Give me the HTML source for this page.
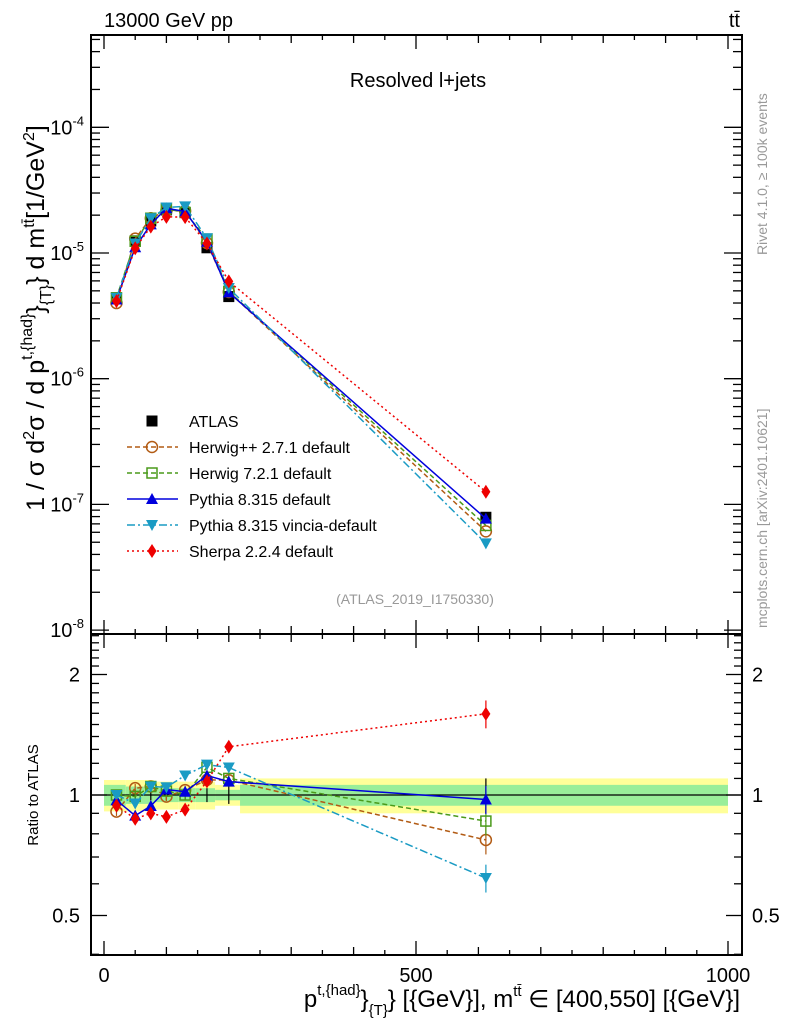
<!DOCTYPE html>
<html><head><meta charset="utf-8">
<style>
html,body{margin:0;padding:0;background:#fff;}
svg{display:block;font-family:"Liberation Sans",sans-serif;}
</style></head>
<body>
<svg id="chart" width="786" height="1024" viewBox="0 0 786 1024" xmlns="http://www.w3.org/2000/svg">
  <g id="bands"></g>
  <g id="axes"></g>
  <g id="series"></g>
  <text x="104" y="27" font-size="20">13000 GeV pp</text>
  <text x="740" y="27" font-size="20" text-anchor="end">tt̄</text>
  <text x="418" y="87" font-size="20" text-anchor="middle">Resolved l+jets</text>
  <text x="415" y="604" font-size="14" fill="#999" text-anchor="middle">(ATLAS_2019_I1750330)</text>
  <text transform="translate(44,318) rotate(-90)" font-size="25" text-anchor="middle">1 / σ d<tspan font-size="16" dy="-10">2</tspan><tspan dy="10">σ / d p</tspan><tspan font-size="16" dy="-12">t,{had}</tspan><tspan dy="12">}</tspan><tspan font-size="16" dy="7">{T}</tspan><tspan dy="-7">} d m</tspan><tspan font-size="16" dy="-10">tt̄</tspan><tspan dy="10">[1/GeV</tspan><tspan font-size="16" dy="-10">2</tspan><tspan dy="10">]</tspan></text>
  <text transform="translate(38,795) rotate(-90)" font-size="15" text-anchor="middle">Ratio to ATLAS</text>
  <text x="740" y="1007" font-size="24" text-anchor="end">p<tspan font-size="15" dy="-12">t,{had}</tspan><tspan dy="12">}</tspan><tspan font-size="15" dy="8">{T}</tspan><tspan dy="-8">} [{GeV}], m</tspan><tspan font-size="15" dy="-11">tt̄</tspan><tspan dy="11"> ∈ [400,550] [{GeV}]</tspan></text>
  <text transform="translate(767,255) rotate(-90)" font-size="14" fill="#999">Rivet 4.1.0, ≥ 100k events</text>
  <text transform="translate(767,628) rotate(-90)" font-size="14" fill="#999">mcplots.cern.ch [arXiv:2401.10621]</text>
  <g id="legend"></g>
</svg>
<script>
const xVals = [20, 50, 75, 100, 130, 165, 200, 612];
const binEdges = [0, 35, 80, 119, 147, 178, 218, 1000];
const atlas = [4.4e-6, 1.25e-5, 1.8e-5, 2.2e-5, 2.1e-5, 1.1e-5, 4.5e-6, 7.9e-8];
const atlasRatioErr = [0.03, 0.03, 0.03, 0.03, 0.03, 0.04, 0.05, 0.1];
const bandTotal = [0.09, 0.09, 0.08, 0.08, 0.08, 0.06, 0.10, 0.13];
const bandStat = [0.06, 0.05, 0.04, 0.04, 0.04, 0.03, 0.06, 0.07];
const herwigpp = [4.0e-6, 1.3e-5, 1.89e-5, 2.18e-5, 2.16e-5, 1.2e-5, 4.9e-6, 6.1e-8];
const herwig7 = [4.4e-6, 1.24e-5, 1.89e-5, 2.25e-5, 2.1e-5, 1.29e-5, 4.95e-6, 6.8e-8];
const pythia = [4.27e-6, 1.11e-5, 1.69e-5, 2.27e-5, 2.14e-5, 1.23e-5, 4.86e-6, 7.7e-8];
const vincia = [4.4e-6, 1.19e-5, 1.89e-5, 2.3e-5, 2.35e-5, 1.31e-5, 5.27e-6, 4.9e-8];
const sherpa = [4.14e-6, 1.09e-5, 1.62e-5, 1.94e-5, 1.93e-5, 1.19e-5, 5.94e-6, 1.26e-7];
const mainTicks = [-8, -7, -6, -5, -4];
const ratioTicks = [0.5, 1, 2];
const xTicks = [0, 500, 1000];

const NS = "http://www.w3.org/2000/svg";
const L = 91, R = 742, MT = 35, MB = 634, RB = 955;
const X = v => 104 + v * 0.624;
const Ym = v => 253 - (Math.log10(v) + 5) * 125.7;
const Yr = v => 795 - Math.log2(v) * 120.5;
function mk(tag, attrs, parent) {
  const e = document.createElementNS(NS, tag);
  for (const k in attrs) e.setAttribute(k, attrs[k]);
  parent.appendChild(e);
  return e;
}
const axes = document.getElementById('axes');
const bands = document.getElementById('bands');
const series = document.getElementById('series');
const legend = document.getElementById('legend');

for (let i = 0; i < xVals.length; i++) {
  const x0 = X(binEdges[i]), x1 = X(binEdges[i + 1]);
  const y = mk('rect', {x: x0, y: Yr(1 + bandTotal[i]), width: x1 - x0, height: Yr(1 - bandTotal[i]) - Yr(1 + bandTotal[i]), fill: '#ffff99'}, bands);
  
  
  const g = mk('rect', {x: x0, y: Yr(1 + bandStat[i]), width: x1 - x0, height: Yr(1 - bandStat[i]) - Yr(1 + bandStat[i]), fill: '#99ee99'}, bands);
  
  
}

const f1 = mk('rect', {x: L, y: MT, width: R - L, height: MB - MT, fill: 'none', stroke: '#000', 'stroke-width': 2}, axes);


const f2 = mk('rect', {x: L, y: MB, width: R - L, height: RB - MB, fill: 'none', stroke: '#000', 'stroke-width': 2}, axes);


const one = mk('line', {x1: L, x2: R, y1: Yr(1), y2: Yr(1), stroke: '#000', 'stroke-width': 1.2}, axes);



for (let v = 0; v <= 1000; v += 50) {
  const major = v % 100 === 0 ? (v % 500 === 0 ? 14 : 8) : 5;
  [[MT, 1], [MB, -1], [MB, 1], [RB, -1]].forEach(([y, d]) => {
    mk('line', {x1: X(v), x2: X(v), y1: y, y2: y + d * major, stroke: '#000', 'stroke-width': 1.3}, axes);
  });
}
xTicks.forEach(v => {
  const t = mk('text', {x: X(v), y: 982, 'font-size': 20, 'text-anchor': 'middle'}, axes);
  t.textContent = v;
  
  
});
for (let d = -9; d <= -4; d++) {
  for (let m = 1; m <= 9; m++) {
    const v = m * Math.pow(10, d);
    const y = Ym(v);
    if (y < MT || y > MB) continue;
    const len = m === 1 ? 18 : 9;
    mk('line', {x1: L, x2: L + len, y1: y, y2: y, stroke: '#000', 'stroke-width': 1.3}, axes);
    mk('line', {x1: R, x2: R - len, y1: y, y2: y, stroke: '#000', 'stroke-width': 1.3}, axes);
  }
}
mainTicks.forEach(d => {
  const t = mk('text', {x: 84, y: Ym(Math.pow(10, d)) + 7, 'font-size': 20, 'text-anchor': 'end'}, axes);
  t.innerHTML = '10<tspan font-size="13" dy="-9">' + d + '</tspan>';
  
  
});
for (let v = 0.4; v <= 2.51; v += 0.1) {
  const y = Yr(v);
  if (y < MB || y > RB) continue;
  const major = Math.abs(v - 0.5) < 1e-6 || Math.abs(v - 1) < 1e-6 || Math.abs(v - 2) < 1e-6;
  const len = major ? 16 : 8;
  mk('line', {x1: L, x2: L + len, y1: y, y2: y, stroke: '#000', 'stroke-width': 1.3}, axes);
  mk('line', {x1: R, x2: R - len, y1: y, y2: y, stroke: '#000', 'stroke-width': 1.3}, axes);
}
ratioTicks.forEach(v => {
  const t = mk('text', {x: 80, y: Yr(v) + 7, 'font-size': 20, 'text-anchor': 'end'}, axes);
  t.textContent = v;
  
  
  const t2 = mk('text', {x: 752, y: Yr(v) + 7, 'font-size': 20}, axes);
  t2.textContent = v;
  
  
});

function marker(g, type, color, x, y) {
  if (type === 'square') mk('rect', {x: x - 5.5, y: y - 5.5, width: 11, height: 11, fill: color}, g);
  else if (type === 'osquare') mk('rect', {x: x - 5, y: y - 5, width: 10, height: 10, fill: 'none', stroke: color, 'stroke-width': 1.5}, g);
  else if (type === 'ocircle') mk('circle', {cx: x, cy: y, r: 5.5, fill: 'none', stroke: color, 'stroke-width': 1.5}, g);
  else if (type === 'tri') mk('polygon', {points: `${x},${y - 6} ${x - 6},${y + 5} ${x + 6},${y + 5}`, fill: color}, g);
  else if (type === 'itri') mk('polygon', {points: `${x},${y + 6} ${x - 6},${y - 5} ${x + 6},${y - 5}`, fill: color}, g);
  else if (type === 'diamond') mk('polygon', {points: `${x},${y - 7} ${x - 4.5},${y} ${x},${y + 7} ${x + 4.5},${y}`, fill: color}, g);
}
const mcs = [
  {name: 'herwigpp', label: 'Herwig++ 2.7.1 default', vals: herwigpp, color: '#b25b14', dash: '5,3', m: 'ocircle'},
  {name: 'herwig7', label: 'Herwig 7.2.1 default', vals: herwig7, color: '#4a9a1a', dash: '5,3', m: 'osquare'},
  {name: 'pythia', label: 'Pythia 8.315 default', vals: pythia, color: '#0000dd', dash: '', m: 'tri'},
  {name: 'vincia', label: 'Pythia 8.315 vincia-default', vals: vincia, color: '#1a9bc4', dash: '8,3,2,3', m: 'itri'},
  {name: 'sherpa', label: 'Sherpa 2.2.4 default', vals: sherpa, color: '#ee0000', dash: '2,3', m: 'diamond'}
];
const ga = mk('g', {}, series);


atlas.forEach((v, i) => marker(ga, 'square', '#000', X(xVals[i]), Ym(v)));
const gar = mk('g', {}, series);


atlas.forEach((v, i) => {
  mk('line', {x1: X(xVals[i]), x2: X(xVals[i]), y1: Yr(1 + atlasRatioErr[i]), y2: Yr(1 - atlasRatioErr[i]), stroke: '#000', 'stroke-width': 1.2}, gar);
});
mcs.forEach(s => {
  const g = mk('g', {}, series);
  
  
  const pm = s.vals.map((v, i) => X(xVals[i]) + ',' + Ym(v)).join(' ');
  mk('polyline', {points: pm, fill: 'none', stroke: s.color, 'stroke-width': 1.5, 'stroke-dasharray': s.dash}, g);
  s.vals.forEach((v, i) => marker(g, s.m, s.color, X(xVals[i]), Ym(v)));
  const gr = mk('g', {}, series);
  
  
  const ratios = s.vals.map((v, i) => v / atlas[i]);
  const pr = ratios.map((r, i) => X(xVals[i]) + ',' + Yr(r)).join(' ');
  mk('polyline', {points: pr, fill: 'none', stroke: s.color, 'stroke-width': 1.5, 'stroke-dasharray': s.dash}, gr);
  ratios.forEach((r, i) => {
    const e = i === ratios.length - 1 ? 0.08 : 0.025;
    mk('line', {x1: X(xVals[i]), x2: X(xVals[i]), y1: Yr(r * (1 + e)), y2: Yr(r * (1 - e)), stroke: s.color, 'stroke-width': 1.2}, gr);
    marker(gr, s.m, s.color, X(xVals[i]), Yr(r));
  });
});
const entries = [{label: 'ATLAS', color: '#000', dash: null, m: 'square'}].concat(mcs);
entries.forEach((s, i) => {
  const y = 421 + i * 26;
  const g = mk('g', {}, legend);
  
  
  if (s.dash !== null) mk('line', {x1: 127, x2: 178, y1: y, y2: y, stroke: s.color, 'stroke-width': 1.5, 'stroke-dasharray': s.dash}, g);
  marker(g, s.m, s.color, 152, y);
  const t = mk('text', {x: 189, y: y + 6, 'font-size': 16}, g);
  t.textContent = s.label;
});
</script>
</body></html>
